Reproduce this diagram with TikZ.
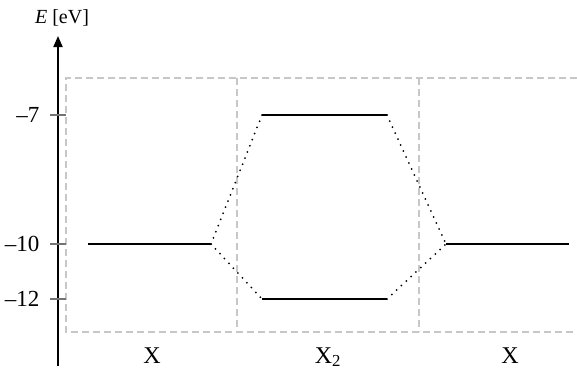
\documentclass[tikz,border=0pt]{standalone}
\usepackage{fontspec}
\setmainfont{Liberation Serif}
\usetikzlibrary{arrows.meta}
\begin{document}
\begin{tikzpicture}[x=1pt,y=-1pt,
  frame/.style={draw=black!22,line width=1.3pt,dash pattern=on 7pt off 4pt},
  level/.style={draw=black,line width=2.2pt},
  link/.style={draw=black,line width=2pt,dash pattern=on 0pt off 6.6pt,line cap=round},
  tick/.style={draw=black!55,line width=1.2pt},
  lab/.style={font=\fontsize{24}{28}\selectfont},
  axlab/.style={font=\fontsize{23}{27}\selectfont,anchor=east}]
\useasboundingbox (0,0) rectangle (577,370);
% frame
\draw[frame] (577,78) -- (66,78) -- (66,332) -- (577,332);
\draw[frame] (237,78) -- (237,332);
\draw[frame] (419,78) -- (419,332);
% axis
\coordinate (abot) at (58,366);
\coordinate (atop) at (58,36);
\draw[line width=2pt,-{Triangle[length=11pt,width=9pt]}] (abot) -- (atop);
\node[font=\fontsize{20}{24}\selectfont] (elab) at (62,18) {\textit{E} [eV]};
% ticks
\foreach \y/\t/\n in {115/–7/a,244/–10/b,299/–12/c}{
  \coordinate (t\n) at (50,\y);
  \coordinate (u\n) at (66,\y);
  \draw[tick] (t\n) -- (u\n);
  \node[axlab] (l\n) at (43,\y) {\t};
}
% levels
\coordinate (L1) at (88,244);  \coordinate (L2) at (211,244);
\coordinate (M1) at (262,115); \coordinate (M2) at (387,115);
\coordinate (N1) at (262,299); \coordinate (N2) at (387,299);
\coordinate (R1) at (446,244); \coordinate (R2) at (569,244);
\draw[level] (L1) -- (L2);
\draw[level] (M1) -- (M2);
\draw[level] (N1) -- (N2);
\draw[level] (R1) -- (R2);
% correlation lines
\draw[link] (L2) -- (M1);
\draw[link] (L2) -- (N1);
\draw[link] (M2) -- (R1);
\draw[link] (N2) -- (R1);
% labels
\node[lab] (xl) at (152,356) {X};
\node[lab] (xm) at (328,357) {X\textsubscript{2}};
\node[lab] (xr) at (510,356) {X};
\end{tikzpicture}
\end{document}
